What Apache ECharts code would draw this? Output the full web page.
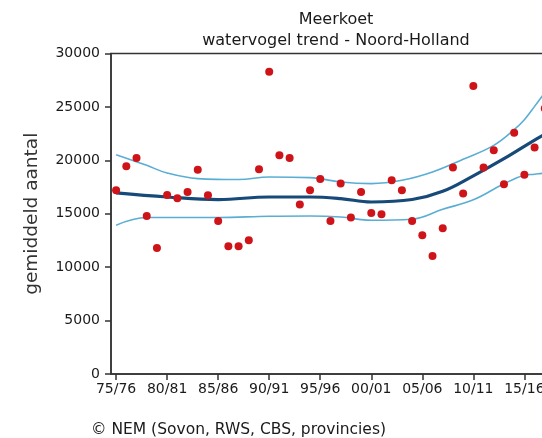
<!DOCTYPE html>
<html>
<head>
<meta charset="utf-8">
<script src="https://cdn.jsdelivr.net/npm/echarts@6/dist/echarts.min.js"></script>
<style>
  html, body { margin: 0; padding: 0; background: #fff; }
  #chart { width: 542px; height: 438px; }
</style>
</head>
<body>
<div id="chart"></div>
<script>
// seizoen-index 0 = 75/76
const counts = [
  17200, 19440, 20215, 14795, 11805, 16760, 16450, 17040, 19130, 16730,
  14330, 11960, 11960, 12520, 19160, 28290, 20470, 20215, 15860, 17200,
  18250, 14330, 17820, 14645, 17040, 15075, 14950, 18130, 17200, 14330,
  12990, 11055, 13650, 19320, 16890, 26950, 19320, 20935, 17760, 22590,
  18660, 21190, 24860
];

const trendIdx = [0, 5, 10, 15, 19, 22, 25, 29, 32, 35, 38, 41, 42, 43];
const trend = [16950, 16570, 16330, 16570, 16570, 16420, 16100, 16330, 17100, 18550, 20150, 21900, 22450, 23000];

const upperIdx = [0, 3, 5, 8, 12, 15, 19, 22, 25, 28, 31, 34, 37, 39, 40, 41, 42, 43];
const upper = [20530, 19530, 18810, 18290, 18200, 18440, 18380, 17970, 17820, 18130, 18910, 20100, 21400, 22870, 23800, 25050, 26350, 27700];

const lowerIdx = [0, 3, 5, 10, 15, 19, 22, 25, 29, 32, 35, 38, 40, 41, 42, 43];
const lower = [13925, 14645, 14645, 14645, 14770, 14795, 14700, 14390, 14490, 15420, 16300, 17800, 18600, 18700, 18800, 18850];

const seasonTicks = [0, 5, 10, 15, 20, 25, 30, 35, 40];

const seasonLabel = (i) => {
  const pad = (n) => String(n % 100).padStart(2, '0');
  return `${pad(75 + i)}/${pad(76 + i)}`;
};

const pairs = (xs, ys) => xs.map((x, i) => [x, ys[i]]);

const chart = echarts.init(document.getElementById('chart'), null, { renderer: 'canvas' });

const option = {
  animation: false,
  title: [
    {
      text: 'Meerkoet\nwatervogel trend - Noord-Holland',
      left: 331,
      top: 4,
      textAlign: 'center',
      textStyle: {
        fontFamily: 'DejaVu Sans',
        fontSize: 16,
        fontWeight: 'normal',
        lineHeight: 21,
        color: '#1a1a1a'
      }
    },
    {
      text: '© NEM (Sovon, RWS, CBS, provincies)',
      left: 86,
      top: 417,
      textStyle: {
        fontFamily: 'DejaVu Sans',
        fontSize: 15.5,
        fontWeight: 'normal',
        color: '#1a1a1a'
      }
    }
  ],
  grid: {
    left: 111,
    top: 53.5,
    width: 444,
    height: 320.5,
    outerBoundsMode: 'none',
    show: true,
    borderColor: '#333',
    borderWidth: 1.5
  },
  xAxis: {
    type: 'value',
    min: -0.5,
    max: 43,
    splitLine: { show: false },
    axisLine: { onZero: false, lineStyle: { color: '#333', width: 1.5 } },
    axisTick: {
      customValues: seasonTicks,
      length: 6,
      lineStyle: { color: '#333', width: 1.5 }
    },
    axisLabel: {
      customValues: seasonTicks,
      formatter: (v) => seasonLabel(v),
      margin: 8,
      fontFamily: 'DejaVu Sans',
      fontSize: 14,
      color: '#1a1a1a'
    }
  },
  yAxis: {
    type: 'value',
    min: 0,
    max: 30000,
    interval: 5000,
    name: 'gemiddeld aantal',
    nameLocation: 'middle',
    nameGap: 69,
    nameTextStyle: {
      fontFamily: 'DejaVu Sans',
      fontSize: 18.5,
      color: '#333'
    },
    splitLine: { show: false },
    axisLine: { show: true, onZero: false, lineStyle: { color: '#333', width: 1.5 } },
    axisTick: { show: true, length: 6, lineStyle: { color: '#333', width: 1.5 } },
    axisLabel: {
      margin: 11,
      formatter: (v) => String(v),
      fontFamily: 'DejaVu Sans',
      fontSize: 14,
      color: '#1a1a1a'
    }
  },
  series: [
    {
      type: 'line',
      data: pairs(upperIdx, upper),
      smooth: 0.4,
      symbol: 'none',
      lineStyle: { color: '#5aaed3', width: 1.6 },
      z: 2
    },
    {
      type: 'line',
      data: pairs(lowerIdx, lower),
      smooth: 0.4,
      symbol: 'none',
      lineStyle: { color: '#5aaed3', width: 1.6 },
      z: 2
    },
    {
      type: 'line',
      data: pairs(trendIdx, trend),
      smooth: 0.4,
      symbol: 'none',
      lineStyle: { color: '#174a78', width: 3.2 },
      z: 3
    },
    {
      type: 'scatter',
      data: counts.map((v, i) => [i, v]),
      symbol: 'circle',
      symbolSize: 8,
      itemStyle: { color: '#cf1419', opacity: 1 },
      z: 4
    }
  ]
};

chart.setOption(option);
</script>
</body>
</html>
